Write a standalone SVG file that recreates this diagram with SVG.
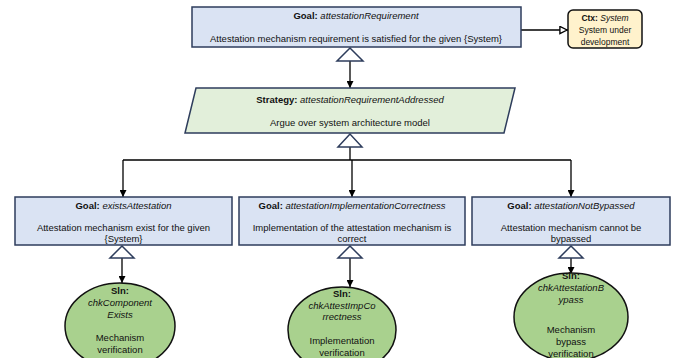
<svg xmlns="http://www.w3.org/2000/svg" width="682" height="358" viewBox="0 0 682 358">
  <defs>
    <style>
      text { font-family: "Liberation Sans", Arial, sans-serif; font-size: 9.5px; fill: #111; text-anchor: middle; }
      .b { font-weight: bold; }
      .i { font-style: italic; }
      .goal { fill: #dae3f3; stroke: #2e3d5c; stroke-width: 1.5; }
      .strat { fill: #e2efda; stroke: #2e3d5c; stroke-width: 1.5; }
      .sln { fill: #a9d18e; stroke: #111; stroke-width: 1.5; }
      .ctx { fill: #fff2cc; stroke: #111; stroke-width: 1.5; }
      .edge { fill: none; stroke: #000; stroke-width: 1.3; }
      .tri { fill: #fff; stroke: #2e3d5c; stroke-width: 1.5; }
    </style>
    <marker id="solid" viewBox="0 0 10 10" refX="10" refY="5" markerWidth="7" markerHeight="7" orient="auto" markerUnits="userSpaceOnUse">
      <path d="M0,0 L10,5 L0,10 z" fill="#000"/>
    </marker>
    <marker id="hollow" viewBox="0 0 10 10" refX="10" refY="5" markerWidth="9" markerHeight="9" orient="auto" markerUnits="userSpaceOnUse">
      <path d="M1,1 L9,5 L1,9 z" fill="#fff" stroke="#000" stroke-width="1.5"/>
    </marker>
  </defs>

  <!-- connectors -->
  <g id="connectors">
    <!-- top goal to context -->
    <path class="edge" d="M521,30 L568,30" marker-end="url(#hollow)"/>
    <!-- top goal supported by strategy -->
    <path class="edge" d="M350,61 L350,88" marker-end="url(#solid)"/>
    <polygon class="tri" points="350,48 337,61 363,61"/>
    <!-- strategy to sub-goals -->
    <path class="edge" d="M350,147 L350,160 M123,160 L571,160"/>
    <path class="edge" d="M123,160 L123,197" marker-end="url(#solid)"/>
    <path class="edge" d="M352,160 L352,197" marker-end="url(#solid)"/>
    <path class="edge" d="M571,160 L571,197" marker-end="url(#solid)"/>
    <polygon class="tri" points="350,134 338,147 362,147"/>
    <!-- sub-goals to solutions -->
    <path class="edge" d="M122,258 L122,283" marker-end="url(#solid)"/>
    <path class="edge" d="M350,258 L350,287" marker-end="url(#solid)"/>
    <path class="edge" d="M571,258 L571,274" marker-end="url(#solid)"/>
    <polygon class="tri" points="122,246 110,258 134,258"/>
    <polygon class="tri" points="350,246 338,258 362,258"/>
    <polygon class="tri" points="571,246 559,258 583,258"/>
  </g>

  <!-- top goal -->
  <g id="goal-attestationRequirement">
    <rect class="goal" x="192" y="7" width="329" height="40"/>
    <text x="356" y="18.5"><tspan class="b">Goal: </tspan><tspan class="i">attestationRequirement</tspan></text>
    <text x="356" y="42">Attestation mechanism requirement is satisfied for the given {System}</text>
  </g>

  <!-- context -->
  <g id="ctx-System">
    <rect class="ctx" x="568" y="10" width="74" height="38" rx="5" ry="5"/>
    <text x="605" y="20.5" style="font-size:8.5px"><tspan class="b">Ctx: </tspan><tspan class="i">System</tspan></text>
    <text x="605" y="33" style="font-size:8.5px">System under</text>
    <text x="605" y="44.5" style="font-size:8.5px">development</text>
  </g>

  <!-- strategy -->
  <g id="strategy-attestationRequirementAddressed">
    <polygon class="strat" points="196,88 515,88 504,133 185,133"/>
    <text x="350" y="103"><tspan class="b">Strategy: </tspan><tspan class="i">attestationRequirementAddressed</tspan></text>
    <text x="350" y="126">Argue over system architecture model</text>
  </g>

  <!-- sub-goals -->
  <g id="goal-existsAttestation">
    <rect class="goal" x="15" y="197" width="217" height="48"/>
    <text x="123.5" y="208.5"><tspan class="b">Goal: </tspan><tspan class="i">existsAttestation</tspan></text>
    <text x="123.5" y="230.5">Attestation mechanism exist for the given</text>
    <text x="123.5" y="241.5">{System}</text>
  </g>

  <g id="goal-attestationImplementationCorrectness">
    <rect class="goal" x="239" y="197" width="226" height="48"/>
    <text x="352" y="208.5"><tspan class="b">Goal: </tspan><tspan class="i">attestationImplementationCorrectness</tspan></text>
    <text x="352" y="230.5">Implementation of the attestation mechanism is</text>
    <text x="352" y="241.5">correct</text>
  </g>

  <g id="goal-attestationNotBypassed">
    <rect class="goal" x="472" y="197" width="198" height="48"/>
    <text x="571" y="208.5"><tspan class="b">Goal: </tspan><tspan class="i">attestationNotBypassed</tspan></text>
    <text x="571" y="230.5">Attestation mechanism cannot be</text>
    <text x="571" y="241.5">bypassed</text>
  </g>

  <!-- solutions -->
  <g id="sln-chkComponentExists">
    <ellipse class="sln" cx="120" cy="326" rx="55" ry="43"/>
    <text x="120" y="293.5" class="b">Sln:</text>
    <text x="120" y="305.5" class="i">chkComponent</text>
    <text x="120" y="317.5" class="i">Exists</text>
    <text x="120" y="341">Mechanism</text>
    <text x="120" y="353">verification</text>
  </g>

  <g id="sln-chkAttestImpCorrectness">
    <ellipse class="sln" cx="342" cy="330" rx="54" ry="43"/>
    <text x="342" y="297" class="b">Sln:</text>
    <text x="342" y="309" class="i">chkAttestImpCo</text>
    <text x="342" y="320" class="i">rrectness</text>
    <text x="342" y="344">Implementation</text>
    <text x="342" y="356">verification</text>
  </g>

  <g id="sln-chkAttestationBypass">
    <ellipse class="sln" cx="571" cy="317" rx="57" ry="44"/>
    <text x="571" y="279" class="b">Sln:</text>
    <text x="571" y="291" class="i">chkAttestationB</text>
    <text x="571" y="303" class="i">ypass</text>
    <text x="571" y="333">Mechanism</text>
    <text x="571" y="345">bypass</text>
    <text x="571" y="357">verification</text>
  </g>
</svg>
